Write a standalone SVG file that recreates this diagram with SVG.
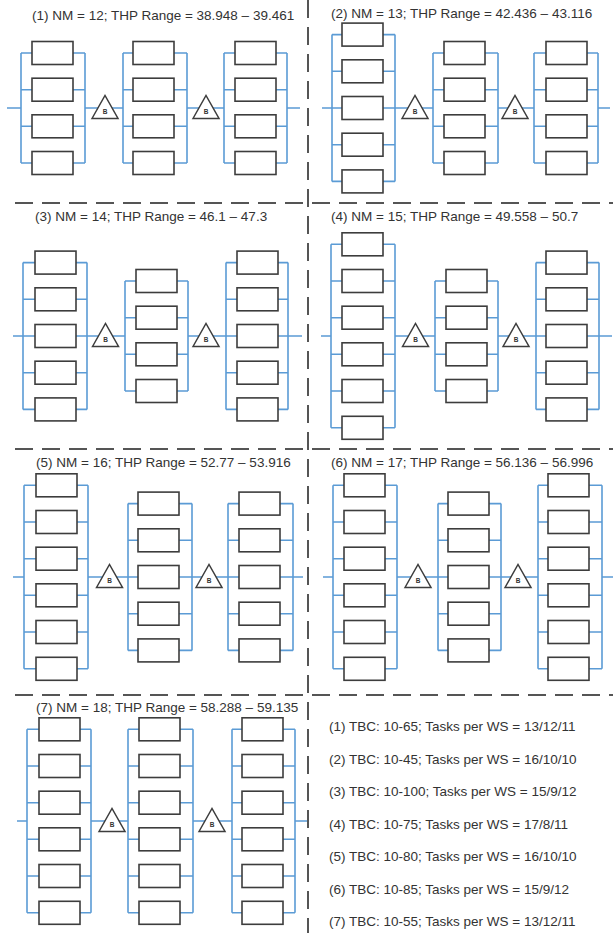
<svg xmlns="http://www.w3.org/2000/svg" width="613" height="933" viewBox="0 0 613 933">
<style>
.bg{fill:#fff}
.wire{fill:none;stroke:#5b9bd5;stroke-width:1.6}
.m{fill:#fff;stroke:#3d3d3d;stroke-width:1.6}
.t{fill:#fff;stroke:#3d3d3d;stroke-width:1.5;stroke-linejoin:miter}
.b{font-family:"Liberation Sans",Arial,sans-serif;font-size:6.5px;font-weight:bold;fill:#333;text-anchor:middle}
.sep{fill:none;stroke:#555;stroke-width:2;stroke-dasharray:18 9}
.title,.leg{font-family:"Liberation Sans",Arial,sans-serif;font-size:13.5px;fill:#333}
</style>
<rect class="bg" x="0" y="0" width="613" height="933"/>
<g id="separators">
<path class="sep" d="M308,0V933"/>
<path class="sep" d="M15,203H613M15,449H613M15,695H613"/>
</g>
<g id="connectors">
<path class="wire" d="M21,53V163M85,53V163M21,53H32M73,53H85M21,89.7H32M73,89.7H85M21,126.3H32M73,126.3H85M21,163H32M73,163H85"/>
<path class="wire" d="M123,53V163M187,53V163M123,53H133M174,53H187M123,89.7H133M174,89.7H187M123,126.3H133M174,126.3H187M123,163H133M174,163H187"/>
<path class="wire" d="M224,53V163M287,53V163M224,53H235M276,53H287M224,89.7H235M276,89.7H287M224,126.3H235M276,126.3H287M224,163H235M276,163H287"/>
<path class="wire" d="M7,108H21M85,108H123M187,108H224M287,108H300"/>
<path class="wire" d="M332,34.6V181.4M395,34.6V181.4M332,34.6H342M383,34.6H395M332,71.3H342M383,71.3H395M332,108H342M383,108H395M332,144.7H342M383,144.7H395M332,181.4H342M383,181.4H395"/>
<path class="wire" d="M433,53V163M498,53V163M433,53H444M485,53H498M433,89.7H444M485,89.7H498M433,126.3H444M485,126.3H498M433,163H444M485,163H498"/>
<path class="wire" d="M534,53V163M598,53V163M534,53H546M587,53H598M534,89.7H546M587,89.7H598M534,126.3H546M587,126.3H598M534,163H546M587,163H598"/>
<path class="wire" d="M322,108H332M395,108H433M498,108H534M598,108H610"/>
<path class="wire" d="M23,262.6V409.4M87,262.6V409.4M23,262.6H35M76,262.6H87M23,299.3H35M76,299.3H87M23,336H35M76,336H87M23,372.7H35M76,372.7H87M23,409.4H35M76,409.4H87"/>
<path class="wire" d="M125,281V391M188,281V391M125,281H136M177,281H188M125,317.7H136M177,317.7H188M125,354.3H136M177,354.3H188M125,391H136M177,391H188"/>
<path class="wire" d="M226,262.6V409.4M288,262.6V409.4M226,262.6H237M278,262.6H288M226,299.3H237M278,299.3H288M226,336H237M278,336H288M226,372.7H237M278,372.7H288M226,409.4H237M278,409.4H288"/>
<path class="wire" d="M13,336H23M87,336H125M188,336H226M288,336H302"/>
<path class="wire" d="M331,244.3V427.8M395,244.3V427.8M331,244.3H342M383,244.3H395M331,281H342M383,281H395M331,317.7H342M383,317.7H395M331,354.3H342M383,354.3H395M331,391H342M383,391H395M331,427.8H342M383,427.8H395"/>
<path class="wire" d="M435,281V391M498,281V391M435,281H446M487,281H498M435,317.7H446M487,317.7H498M435,354.3H446M487,354.3H498M435,391H446M487,391H498"/>
<path class="wire" d="M536,262.6V409.4M599,262.6V409.4M536,262.6H546M587,262.6H599M536,299.3H546M587,299.3H599M536,336H546M587,336H599M536,372.7H546M587,372.7H599M536,409.4H546M587,409.4H599"/>
<path class="wire" d="M321,336H331M395,336H435M498,336H536M599,336H612"/>
<path class="wire" d="M24,485.3V668.8M88,485.3V668.8M24,485.3H36M77,485.3H88M24,522H36M77,522H88M24,558.7H36M77,558.7H88M24,595.3H36M77,595.3H88M24,632H36M77,632H88M24,668.8H36M77,668.8H88"/>
<path class="wire" d="M128,503.6V650.4M192,503.6V650.4M128,503.6H138M179,503.6H192M128,540.3H138M179,540.3H192M128,577H138M179,577H192M128,613.7H138M179,613.7H192M128,650.4H138M179,650.4H192"/>
<path class="wire" d="M228,503.6V650.4M293,503.6V650.4M228,503.6H239M280,503.6H293M228,540.3H239M280,540.3H293M228,577H239M280,577H293M228,613.7H239M280,613.7H293M228,650.4H239M280,650.4H293"/>
<path class="wire" d="M13,577H24M88,577H128M192,577H228M293,577H303"/>
<path class="wire" d="M333,485.3V668.8M397,485.3V668.8M333,485.3H344M385,485.3H397M333,522H344M385,522H397M333,558.7H344M385,558.7H397M333,595.3H344M385,595.3H397M333,632H344M385,632H397M333,668.8H344M385,668.8H397"/>
<path class="wire" d="M438,503.6V650.4M501,503.6V650.4M438,503.6H448M489,503.6H501M438,540.3H448M489,540.3H501M438,577H448M489,577H501M438,613.7H448M489,613.7H501M438,650.4H448M489,650.4H501"/>
<path class="wire" d="M538,485.3V668.8M602,485.3V668.8M538,485.3H548M589,485.3H602M538,522H548M589,522H602M538,558.7H548M589,558.7H602M538,595.3H548M589,595.3H602M538,632H548M589,632H602M538,668.8H548M589,668.8H602"/>
<path class="wire" d="M323,577H333M397,577H438M501,577H538M602,577H613"/>
<path class="wire" d="M27,729.3V912.8M91,729.3V912.8M27,729.3H39M80,729.3H91M27,766H39M80,766H91M27,802.7H39M80,802.7H91M27,839.3H39M80,839.3H91M27,876H39M80,876H91M27,912.8H39M80,912.8H91"/>
<path class="wire" d="M128,729.3V912.8M193,729.3V912.8M128,729.3H139M180,729.3H193M128,766H139M180,766H193M128,802.7H139M180,802.7H193M128,839.3H139M180,839.3H193M128,876H139M180,876H193M128,912.8H139M180,912.8H193"/>
<path class="wire" d="M232,729.3V912.8M295,729.3V912.8M232,729.3H242M283,729.3H295M232,766H242M283,766H295M232,802.7H242M283,802.7H295M232,839.3H242M283,839.3H295M232,876H242M283,876H295M232,912.8H242M283,912.8H295"/>
<path class="wire" d="M17,821H27M91,821H128M193,821H232M295,821H307"/>
</g>
<g id="titles">
<text class="title" x="32" y="20">(1) NM = 12; THP Range = 38.948 – 39.461</text>
<text class="title" x="331" y="18">(2) NM = 13; THP Range = 42.436 – 43.116</text>
<text class="title" x="35" y="221">(3) NM = 14; THP Range = 46.1 – 47.3</text>
<text class="title" x="331" y="221">(4) NM = 15; THP Range = 49.558 – 50.7</text>
<text class="title" x="36" y="467">(5) NM = 16; THP Range = 52.77 – 53.916</text>
<text class="title" x="331" y="467">(6) NM = 17; THP Range = 56.136 – 56.996</text>
<text class="title" x="36" y="712">(7) NM = 18; THP Range = 58.288 – 59.135</text>
</g>
<g id="p1">
<g id="p1-s1-m1"><rect class="m" x="32" y="41.5" width="41" height="23"/></g>
<g id="p1-s1-m2"><rect class="m" x="32" y="78.2" width="41" height="23"/></g>
<g id="p1-s1-m3"><rect class="m" x="32" y="114.8" width="41" height="23"/></g>
<g id="p1-s1-m4"><rect class="m" x="32" y="151.5" width="41" height="23"/></g>
<g id="p1-s2-m1"><rect class="m" x="133" y="41.5" width="41" height="23"/></g>
<g id="p1-s2-m2"><rect class="m" x="133" y="78.2" width="41" height="23"/></g>
<g id="p1-s2-m3"><rect class="m" x="133" y="114.8" width="41" height="23"/></g>
<g id="p1-s2-m4"><rect class="m" x="133" y="151.5" width="41" height="23"/></g>
<g id="p1-s3-m1"><rect class="m" x="235" y="41.5" width="41" height="23"/></g>
<g id="p1-s3-m2"><rect class="m" x="235" y="78.2" width="41" height="23"/></g>
<g id="p1-s3-m3"><rect class="m" x="235" y="114.8" width="41" height="23"/></g>
<g id="p1-s3-m4"><rect class="m" x="235" y="151.5" width="41" height="23"/></g>
<g id="p1-b1"><polygon class="t" points="92,118.5 105,95.5 118,118.5"/><text class="b" x="105" y="114">B</text></g>
<g id="p1-b2"><polygon class="t" points="193,118.5 206,95.5 219,118.5"/><text class="b" x="206" y="114">B</text></g>
</g>
<g id="p2">
<g id="p2-s1-m1"><rect class="m" x="342" y="23.1" width="41" height="23"/></g>
<g id="p2-s1-m2"><rect class="m" x="342" y="59.8" width="41" height="23"/></g>
<g id="p2-s1-m3"><rect class="m" x="342" y="96.5" width="41" height="23"/></g>
<g id="p2-s1-m4"><rect class="m" x="342" y="133.2" width="41" height="23"/></g>
<g id="p2-s1-m5"><rect class="m" x="342" y="169.9" width="41" height="23"/></g>
<g id="p2-s2-m1"><rect class="m" x="444" y="41.5" width="41" height="23"/></g>
<g id="p2-s2-m2"><rect class="m" x="444" y="78.2" width="41" height="23"/></g>
<g id="p2-s2-m3"><rect class="m" x="444" y="114.8" width="41" height="23"/></g>
<g id="p2-s2-m4"><rect class="m" x="444" y="151.5" width="41" height="23"/></g>
<g id="p2-s3-m1"><rect class="m" x="546" y="41.5" width="41" height="23"/></g>
<g id="p2-s3-m2"><rect class="m" x="546" y="78.2" width="41" height="23"/></g>
<g id="p2-s3-m3"><rect class="m" x="546" y="114.8" width="41" height="23"/></g>
<g id="p2-s3-m4"><rect class="m" x="546" y="151.5" width="41" height="23"/></g>
<g id="p2-b1"><polygon class="t" points="402,118.5 415,95.5 428,118.5"/><text class="b" x="415" y="114">B</text></g>
<g id="p2-b2"><polygon class="t" points="502,118.5 515,95.5 528,118.5"/><text class="b" x="515" y="114">B</text></g>
</g>
<g id="p3">
<g id="p3-s1-m1"><rect class="m" x="35" y="251.1" width="41" height="23"/></g>
<g id="p3-s1-m2"><rect class="m" x="35" y="287.8" width="41" height="23"/></g>
<g id="p3-s1-m3"><rect class="m" x="35" y="324.5" width="41" height="23"/></g>
<g id="p3-s1-m4"><rect class="m" x="35" y="361.2" width="41" height="23"/></g>
<g id="p3-s1-m5"><rect class="m" x="35" y="397.9" width="41" height="23"/></g>
<g id="p3-s2-m1"><rect class="m" x="136" y="269.5" width="41" height="23"/></g>
<g id="p3-s2-m2"><rect class="m" x="136" y="306.2" width="41" height="23"/></g>
<g id="p3-s2-m3"><rect class="m" x="136" y="342.8" width="41" height="23"/></g>
<g id="p3-s2-m4"><rect class="m" x="136" y="379.5" width="41" height="23"/></g>
<g id="p3-s3-m1"><rect class="m" x="237" y="251.1" width="41" height="23"/></g>
<g id="p3-s3-m2"><rect class="m" x="237" y="287.8" width="41" height="23"/></g>
<g id="p3-s3-m3"><rect class="m" x="237" y="324.5" width="41" height="23"/></g>
<g id="p3-s3-m4"><rect class="m" x="237" y="361.2" width="41" height="23"/></g>
<g id="p3-s3-m5"><rect class="m" x="237" y="397.9" width="41" height="23"/></g>
<g id="p3-b1"><polygon class="t" points="92.5,346.5 105.5,323.5 118.5,346.5"/><text class="b" x="105.5" y="342">B</text></g>
<g id="p3-b2"><polygon class="t" points="193,346.5 206,323.5 219,346.5"/><text class="b" x="206" y="342">B</text></g>
</g>
<g id="p4">
<g id="p4-s1-m1"><rect class="m" x="342" y="232.8" width="41" height="23"/></g>
<g id="p4-s1-m2"><rect class="m" x="342" y="269.5" width="41" height="23"/></g>
<g id="p4-s1-m3"><rect class="m" x="342" y="306.2" width="41" height="23"/></g>
<g id="p4-s1-m4"><rect class="m" x="342" y="342.8" width="41" height="23"/></g>
<g id="p4-s1-m5"><rect class="m" x="342" y="379.5" width="41" height="23"/></g>
<g id="p4-s1-m6"><rect class="m" x="342" y="416.3" width="41" height="23"/></g>
<g id="p4-s2-m1"><rect class="m" x="446" y="269.5" width="41" height="23"/></g>
<g id="p4-s2-m2"><rect class="m" x="446" y="306.2" width="41" height="23"/></g>
<g id="p4-s2-m3"><rect class="m" x="446" y="342.8" width="41" height="23"/></g>
<g id="p4-s2-m4"><rect class="m" x="446" y="379.5" width="41" height="23"/></g>
<g id="p4-s3-m1"><rect class="m" x="546" y="251.1" width="41" height="23"/></g>
<g id="p4-s3-m2"><rect class="m" x="546" y="287.8" width="41" height="23"/></g>
<g id="p4-s3-m3"><rect class="m" x="546" y="324.5" width="41" height="23"/></g>
<g id="p4-s3-m4"><rect class="m" x="546" y="361.2" width="41" height="23"/></g>
<g id="p4-s3-m5"><rect class="m" x="546" y="397.9" width="41" height="23"/></g>
<g id="p4-b1"><polygon class="t" points="402.5,346.5 415.5,323.5 428.5,346.5"/><text class="b" x="415.5" y="342">B</text></g>
<g id="p4-b2"><polygon class="t" points="503,346.5 516,323.5 529,346.5"/><text class="b" x="516" y="342">B</text></g>
</g>
<g id="p5">
<g id="p5-s1-m1"><rect class="m" x="36" y="473.8" width="41" height="23"/></g>
<g id="p5-s1-m2"><rect class="m" x="36" y="510.5" width="41" height="23"/></g>
<g id="p5-s1-m3"><rect class="m" x="36" y="547.2" width="41" height="23"/></g>
<g id="p5-s1-m4"><rect class="m" x="36" y="583.8" width="41" height="23"/></g>
<g id="p5-s1-m5"><rect class="m" x="36" y="620.5" width="41" height="23"/></g>
<g id="p5-s1-m6"><rect class="m" x="36" y="657.3" width="41" height="23"/></g>
<g id="p5-s2-m1"><rect class="m" x="138" y="492.1" width="41" height="23"/></g>
<g id="p5-s2-m2"><rect class="m" x="138" y="528.8" width="41" height="23"/></g>
<g id="p5-s2-m3"><rect class="m" x="138" y="565.5" width="41" height="23"/></g>
<g id="p5-s2-m4"><rect class="m" x="138" y="602.2" width="41" height="23"/></g>
<g id="p5-s2-m5"><rect class="m" x="138" y="638.9" width="41" height="23"/></g>
<g id="p5-s3-m1"><rect class="m" x="239" y="492.1" width="41" height="23"/></g>
<g id="p5-s3-m2"><rect class="m" x="239" y="528.8" width="41" height="23"/></g>
<g id="p5-s3-m3"><rect class="m" x="239" y="565.5" width="41" height="23"/></g>
<g id="p5-s3-m4"><rect class="m" x="239" y="602.2" width="41" height="23"/></g>
<g id="p5-s3-m5"><rect class="m" x="239" y="638.9" width="41" height="23"/></g>
<g id="p5-b1"><polygon class="t" points="96.5,587.5 109.5,564.5 122.5,587.5"/><text class="b" x="109.5" y="583">B</text></g>
<g id="p5-b2"><polygon class="t" points="196,587.5 209,564.5 222,587.5"/><text class="b" x="209" y="583">B</text></g>
</g>
<g id="p6">
<g id="p6-s1-m1"><rect class="m" x="344" y="473.8" width="41" height="23"/></g>
<g id="p6-s1-m2"><rect class="m" x="344" y="510.5" width="41" height="23"/></g>
<g id="p6-s1-m3"><rect class="m" x="344" y="547.2" width="41" height="23"/></g>
<g id="p6-s1-m4"><rect class="m" x="344" y="583.8" width="41" height="23"/></g>
<g id="p6-s1-m5"><rect class="m" x="344" y="620.5" width="41" height="23"/></g>
<g id="p6-s1-m6"><rect class="m" x="344" y="657.3" width="41" height="23"/></g>
<g id="p6-s2-m1"><rect class="m" x="448" y="492.1" width="41" height="23"/></g>
<g id="p6-s2-m2"><rect class="m" x="448" y="528.8" width="41" height="23"/></g>
<g id="p6-s2-m3"><rect class="m" x="448" y="565.5" width="41" height="23"/></g>
<g id="p6-s2-m4"><rect class="m" x="448" y="602.2" width="41" height="23"/></g>
<g id="p6-s2-m5"><rect class="m" x="448" y="638.9" width="41" height="23"/></g>
<g id="p6-s3-m1"><rect class="m" x="548" y="473.8" width="41" height="23"/></g>
<g id="p6-s3-m2"><rect class="m" x="548" y="510.5" width="41" height="23"/></g>
<g id="p6-s3-m3"><rect class="m" x="548" y="547.2" width="41" height="23"/></g>
<g id="p6-s3-m4"><rect class="m" x="548" y="583.8" width="41" height="23"/></g>
<g id="p6-s3-m5"><rect class="m" x="548" y="620.5" width="41" height="23"/></g>
<g id="p6-s3-m6"><rect class="m" x="548" y="657.3" width="41" height="23"/></g>
<g id="p6-b1"><polygon class="t" points="405,587.5 418,564.5 431,587.5"/><text class="b" x="418" y="583">B</text></g>
<g id="p6-b2"><polygon class="t" points="505,587.5 518,564.5 531,587.5"/><text class="b" x="518" y="583">B</text></g>
</g>
<g id="p7">
<g id="p7-s1-m1"><rect class="m" x="39" y="717.8" width="41" height="23"/></g>
<g id="p7-s1-m2"><rect class="m" x="39" y="754.5" width="41" height="23"/></g>
<g id="p7-s1-m3"><rect class="m" x="39" y="791.2" width="41" height="23"/></g>
<g id="p7-s1-m4"><rect class="m" x="39" y="827.8" width="41" height="23"/></g>
<g id="p7-s1-m5"><rect class="m" x="39" y="864.5" width="41" height="23"/></g>
<g id="p7-s1-m6"><rect class="m" x="39" y="901.3" width="41" height="23"/></g>
<g id="p7-s2-m1"><rect class="m" x="139" y="717.8" width="41" height="23"/></g>
<g id="p7-s2-m2"><rect class="m" x="139" y="754.5" width="41" height="23"/></g>
<g id="p7-s2-m3"><rect class="m" x="139" y="791.2" width="41" height="23"/></g>
<g id="p7-s2-m4"><rect class="m" x="139" y="827.8" width="41" height="23"/></g>
<g id="p7-s2-m5"><rect class="m" x="139" y="864.5" width="41" height="23"/></g>
<g id="p7-s2-m6"><rect class="m" x="139" y="901.3" width="41" height="23"/></g>
<g id="p7-s3-m1"><rect class="m" x="242" y="717.8" width="41" height="23"/></g>
<g id="p7-s3-m2"><rect class="m" x="242" y="754.5" width="41" height="23"/></g>
<g id="p7-s3-m3"><rect class="m" x="242" y="791.2" width="41" height="23"/></g>
<g id="p7-s3-m4"><rect class="m" x="242" y="827.8" width="41" height="23"/></g>
<g id="p7-s3-m5"><rect class="m" x="242" y="864.5" width="41" height="23"/></g>
<g id="p7-s3-m6"><rect class="m" x="242" y="901.3" width="41" height="23"/></g>
<g id="p7-b1"><polygon class="t" points="99,831.5 112,808.5 125,831.5"/><text class="b" x="112" y="827">B</text></g>
<g id="p7-b2"><polygon class="t" points="199,831.5 212,808.5 225,831.5"/><text class="b" x="212" y="827">B</text></g>
</g>
<g id="legend">
<text class="leg" x="329" y="731">(1) TBC: 10-65; Tasks per WS = 13/12/11</text>
<text class="leg" x="329" y="763.5">(2) TBC: 10-45; Tasks per WS = 16/10/10</text>
<text class="leg" x="329" y="796">(3) TBC: 10-100; Tasks per WS = 15/9/12</text>
<text class="leg" x="329" y="828.5">(4) TBC: 10-75; Tasks per WS = 17/8/11</text>
<text class="leg" x="329" y="861">(5) TBC: 10-80; Tasks per WS = 16/10/10</text>
<text class="leg" x="329" y="893.5">(6) TBC: 10-85; Tasks per WS = 15/9/12</text>
<text class="leg" x="329" y="926">(7) TBC: 10-55; Tasks per WS = 13/12/11</text>
</g>
</svg>
